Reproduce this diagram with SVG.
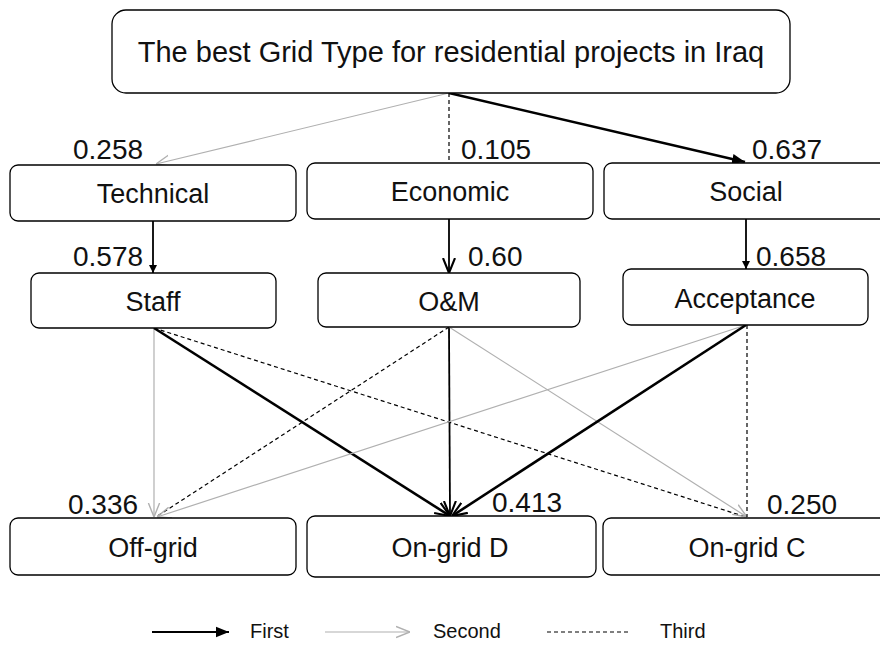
<svg xmlns="http://www.w3.org/2000/svg" width="880" height="646" viewBox="0 0 880 646">
  <style>
    .box { fill: #ffffff; stroke: #000000; stroke-width: 1.3; }
    .lbl { font-family: "Liberation Sans", Arial, sans-serif; fill: #111111; }
    .node { font-size: 27px; text-anchor: middle; }
    .num { font-size: 28px; }
    .leg { font-size: 20px; }
    .first { stroke: #000000; stroke-width: 2.6; fill: none; }
    .firstv { stroke: #000000; stroke-width: 1.8; fill: none; }
    .second { stroke: #b0b0b0; stroke-width: 1.2; fill: none; }
    .third { stroke: #000000; stroke-width: 1.2; stroke-dasharray: 4 3; fill: none; }
  </style>
  <defs>
    <marker id="headSolid" viewBox="0 0 10 10" refX="10" refY="5" markerWidth="8" markerHeight="8" markerUnits="userSpaceOnUse" orient="auto">
      <path d="M0,0 L10,5 L0,10 z" fill="#000"/>
    </marker>
    <marker id="headSolidL" viewBox="0 0 10 10" refX="10" refY="5" markerWidth="13" markerHeight="13" markerUnits="userSpaceOnUse" orient="auto">
      <path d="M0,1 L10,5 L0,9 z" fill="#000"/>
    </marker>
    <marker id="headOpen" viewBox="0 0 10 10" refX="10" refY="5" markerWidth="15" markerHeight="15" markerUnits="userSpaceOnUse" orient="auto">
      <path d="M0,1 L10,5 L0,9" fill="none" stroke="#000" stroke-width="1.4"/>
    </marker>
    <marker id="headGray" viewBox="0 0 10 10" refX="10" refY="5" markerWidth="14" markerHeight="14" markerUnits="userSpaceOnUse" orient="auto">
      <path d="M0,1 L10,5 L0,9" fill="none" stroke="#b0b0b0" stroke-width="1"/>
    </marker>
  </defs>

  <rect width="880" height="646" fill="#ffffff"/>

  <!-- connectors -->
  <g id="connectors">
    <!-- goal to criteria -->
    <line class="second" x1="449" y1="93" x2="156" y2="164" marker-end="url(#headGray)"/>
    <line class="third" x1="449" y1="93" x2="449" y2="163"/>
    <line class="first" x1="449" y1="93" x2="745" y2="162" marker-end="url(#headSolidL)"/>
    <!-- criteria to sub-criteria -->
    <line class="firstv" x1="153" y1="221" x2="153" y2="273" marker-end="url(#headSolid)"/>
    <line class="firstv" x1="449" y1="219" x2="449" y2="273" marker-end="url(#headOpen)"/>
    <line class="firstv" x1="746" y1="219" x2="746" y2="269" marker-end="url(#headSolid)"/>
    <!-- sub-criteria to alternatives -->
    <line class="second" x1="154" y1="328" x2="154" y2="517" marker-end="url(#headGray)"/>
    <line class="first" x1="154" y1="328" x2="450" y2="516" marker-end="url(#headOpen)"/>
    <line class="third" x1="154" y1="328" x2="746" y2="517"/>
    <line class="third" x1="449" y1="327" x2="156" y2="517"/>
    <line class="firstv" x1="449" y1="327" x2="450" y2="516" marker-end="url(#headOpen)"/>
    <line class="second" x1="449" y1="327" x2="747" y2="517" marker-end="url(#headGray)"/>
    <line class="second" x1="746" y1="325" x2="157" y2="517" marker-end="url(#headGray)"/>
    <line class="first" x1="746" y1="325" x2="452" y2="516" marker-end="url(#headOpen)"/>
    <line class="third" x1="747" y1="325" x2="747" y2="517"/>
  </g>

  <!-- goal -->
  <g id="goal">
    <rect class="box" x="112" y="10" width="678" height="83" rx="14"/>
    <text class="lbl" x="451" y="62" font-size="29" text-anchor="middle">The best Grid Type for residential projects in Iraq</text>
  </g>

  <!-- criteria -->
  <g id="technical">
    <rect class="box" x="10" y="165" width="286" height="56" rx="8"/>
    <text class="lbl node" x="153" y="203">Technical</text>
    <text class="lbl num" x="73" y="159">0.258</text>
  </g>
  <g id="economic">
    <rect class="box" x="307" y="163" width="286" height="56" rx="8"/>
    <text class="lbl node" x="450" y="201">Economic</text>
    <text class="lbl num" x="461" y="159">0.105</text>
  </g>
  <g id="social">
    <rect class="box" x="604" y="163" width="290" height="56" rx="8"/>
    <text class="lbl node" x="746" y="201">Social</text>
    <text class="lbl num" x="752" y="159">0.637</text>
  </g>

  <!-- sub-criteria -->
  <g id="staff">
    <rect class="box" x="31" y="273" width="245" height="55" rx="8"/>
    <text class="lbl node" x="153" y="311">Staff</text>
    <text class="lbl num" x="73" y="266">0.578</text>
  </g>
  <g id="om">
    <rect class="box" x="318" y="273" width="262" height="54" rx="8"/>
    <text class="lbl node" x="449" y="311">O&amp;M</text>
    <text class="lbl num" x="468" y="266">0.60</text>
  </g>
  <g id="acceptance">
    <rect class="box" x="623" y="269" width="245" height="56" rx="8"/>
    <text class="lbl node" x="745" y="308">Acceptance</text>
    <text class="lbl num" x="756" y="266">0.658</text>
  </g>

  <!-- alternatives -->
  <g id="offgrid">
    <rect class="box" x="10" y="518" width="286" height="57" rx="8"/>
    <text class="lbl node" x="153" y="557">Off-grid</text>
    <text class="lbl num" x="68" y="514">0.336</text>
  </g>
  <g id="ongridD">
    <rect class="box" x="307" y="516" width="289" height="61" rx="8"/>
    <text class="lbl node" x="450" y="557">On-grid D</text>
    <text class="lbl num" x="492" y="512">0.413</text>
  </g>
  <g id="ongridC">
    <rect class="box" x="603" y="518" width="292" height="57" rx="8"/>
    <text class="lbl node" x="747" y="557">On-grid C</text>
    <text class="lbl num" x="767" y="514">0.250</text>
  </g>

  <!-- legend -->
  <g id="legend">
    <line class="firstv" x1="152" y1="632" x2="229" y2="632" marker-end="url(#headSolidL)"/>
    <text class="lbl leg" x="250" y="638">First</text>
    <line class="second" x1="325" y1="632" x2="410" y2="632" marker-end="url(#headGray)"/>
    <text class="lbl leg" x="433" y="638">Second</text>
    <line class="third" x1="547" y1="632" x2="630" y2="632"/>
    <text class="lbl leg" x="660" y="638">Third</text>
  </g>
</svg>
